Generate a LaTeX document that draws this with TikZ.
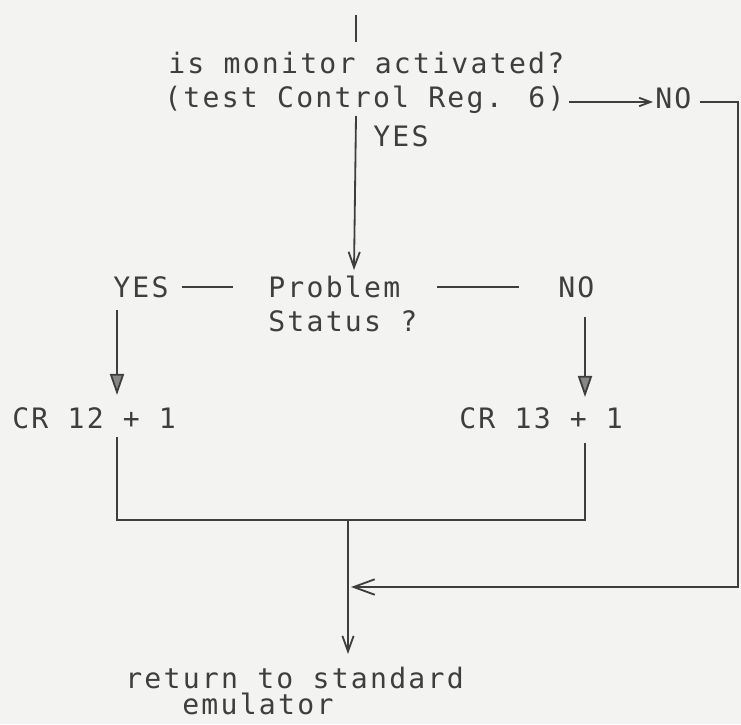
\documentclass[tikz,border=0pt]{standalone}
\usepackage{fontspec}
\newfontfamily\typewriter[LetterSpace=8]{DejaVu Sans Mono}
\usetikzlibrary{arrows.meta,positioning}
\definecolor{paper}{RGB}{243,243,241}
\definecolor{inkgray}{RGB}{62,62,62}
\definecolor{tipgray}{RGB}{135,135,135}

\begin{document}
\begin{tikzpicture}[x=0.025cm, y=-0.025cm,
  txt/.style={inner sep=0pt, anchor=base west, text=inkgray, font=\typewriter\fontsize{20pt}{24pt}\selectfont},
  flow/.style={draw=inkgray, line width=1.3pt},
  barb/.style={-{Straight Barb[length=8pt, width=6pt]}},
  vhead/.style={-{Straight Barb[length=11pt, width=8pt]}},
  openhead/.style={-{Straight Barb[length=15pt, width=11pt]}},
  fathead/.style={-{Triangle[length=15pt, width=10pt, fill=tipgray]}}]
  \fill[paper] (0,0) rectangle (741,724);
  \useasboundingbox (0,0) rectangle (741,724);

  % Monitor test
  \coordinate (entry) at (356,15);
  \node[txt] (monitor) at (168,73) {is monitor activated?};
  \node[txt] (ctrl) at (164,107) {(test Control Reg. 6)};
  \node[txt] (noA) at (655,108) {NO};
  \node[txt] (yesA) at (373,146) {YES};
  \draw[flow] (entry) -- ++(0,27);
  \draw[flow, barb] ([shift={(4,-5)}]ctrl.base east) -- ([shift={(-2,-6)}]noA.base west);

  % Problem status branch
  \node[txt] (yesB) at (113,297) {YES};
  \node[txt] (problem) at (268,297) {Problem};
  \node[txt] (status) at (268,331) {Status ?};
  \node[txt] (noB) at (558,297) {NO};
  \coordinate (stemTop) at (356,116);
  \coordinate (probTop) at (354,270);
  \draw[flow, vhead] (stemTop) -- (probTop);
  \draw[flow] ([xshift=9]yesB.east) -- ([xshift=-25]yesB.east -| problem.west);
  \draw[flow] ([xshift=26]problem.east |- yesB.east) -- ([xshift=-28]yesB.east -| noB.west);

  % Counter registers
  \node[txt] (crA) at (12,428) {CR 12 + 1};
  \node[txt] (crB) at (459,428) {CR 13 + 1};
  \draw[flow, fathead] ([shift={(4,13)}]yesB.base west) -- ([shift={(105,-33)}]crA.base west);
  \draw[flow, fathead] ([shift={(27,20)}]noB.base west) -- ([shift={(126,-31)}]crB.base west);

  % Return
  \node[txt] (ret) at (125,688) {return to standard};
  \node[txt] (emu) at (182,714) {emulator};
  \coordinate (joinMid) at (348,520);
  \coordinate (loopTurn) at (738,587);
  \coordinate (mergeIn) at (351,587);
  \draw[flow] ([shift={(105,9)}]crA.base west) |- (joinMid) -| ([shift={(126,15)}]crB.base west);
  \draw[flow, vhead] (joinMid) -- ([shift={(223,-34)}]ret.base west);
  \draw[flow, openhead] ([shift={(8,-6)}]noA.base east) -| (loopTurn) -- (mergeIn);
\end{tikzpicture}
\end{document}
